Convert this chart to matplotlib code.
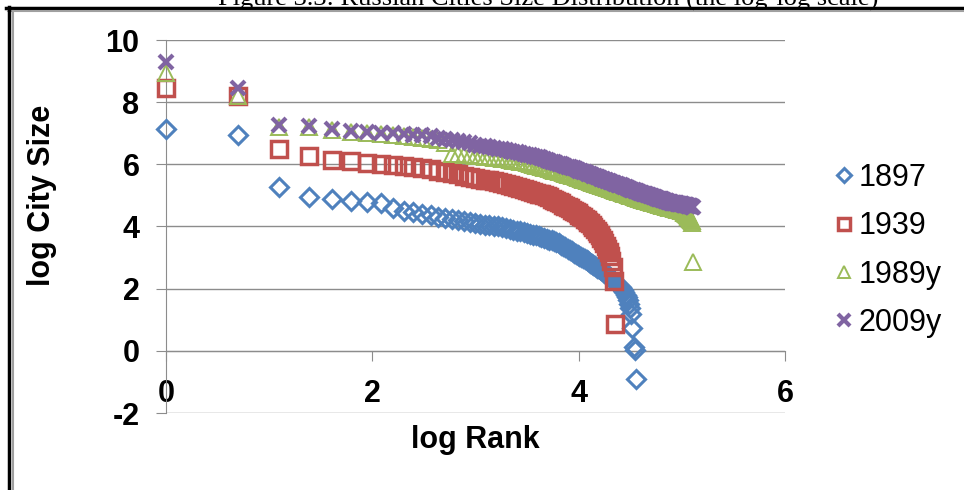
import numpy as np
import matplotlib
import matplotlib.pyplot as plt
from matplotlib.lines import Line2D

matplotlib.use('agg')

# log city size by rank (rank 1 = largest city)
size_1897 = [7.15, 6.95, 5.28, 4.95, 4.90, 4.83, 4.80, 4.75, 4.60, 4.50,
             4.46, 4.41, 4.36, 4.32, 4.28, 4.24, 4.21, 4.17, 4.13, 4.10,
             4.08, 4.06, 4.04, 4.02, 4.00, 3.97, 3.94, 3.91, 3.88, 3.86,
             3.84, 3.81, 3.79, 3.77, 3.74, 3.72, 3.70, 3.67, 3.64, 3.61,
             3.58, 3.55, 3.52, 3.49, 3.46, 3.42, 3.38, 3.34, 3.29, 3.24,
             3.20, 3.16, 3.12, 3.09, 3.06, 3.03, 3.00, 2.96, 2.92, 2.88,
             2.84, 2.80, 2.76, 2.72, 2.68, 2.66, 2.64, 2.60, 2.56, 2.52,
             2.48, 2.44, 2.40, 2.36, 2.32, 2.28, 2.24, 2.20, 2.16, 2.12,
             2.08, 2.04, 2.00, 1.95, 1.88, 1.80, 1.72, 1.62, 1.50, 1.38,
             1.18, 0.72, 0.12, 0.02, -0.90]

size_1939 = [8.45, 8.20, 6.50, 6.28, 6.13, 6.10, 6.05, 6.00, 5.98, 5.95,
             5.92, 5.88, 5.84, 5.80, 5.76, 5.72, 5.68, 5.64, 5.60, 5.57,
             5.54, 5.51, 5.48, 5.45, 5.42, 5.39, 5.36, 5.33, 5.30, 5.27,
             5.24, 5.21, 5.18, 5.15, 5.12, 5.09, 5.06, 5.03, 5.00, 4.97,
             4.94, 4.90, 4.86, 4.82, 4.78, 4.74, 4.70, 4.66, 4.62, 4.58,
             4.54, 4.50, 4.46, 4.42, 4.38, 4.34, 4.30, 4.25, 4.20, 4.15,
             4.10, 4.04, 3.98, 3.92, 3.86, 3.79, 3.72, 3.64, 3.56, 3.47,
             3.38, 3.28, 3.17, 3.05, 2.90, 2.70, 2.25, 0.85]

size_1989 = [8.95, 8.20, 7.20, 7.20, 7.12, 7.04, 7.00, 6.97, 6.95, 6.92,
             6.89, 6.86, 6.82, 6.78, 6.70, 6.34, 6.32, 6.30, 6.29, 6.28,
             6.26, 6.24, 6.22, 6.21, 6.19, 6.17, 6.16, 6.14, 6.12, 6.10,
             6.08, 6.06, 6.03, 6.01, 5.99, 5.96, 5.94, 5.92, 5.89, 5.87,
             5.85, 5.82, 5.80, 5.78, 5.76, 5.74, 5.72, 5.70, 5.67, 5.65,
             5.63, 5.61, 5.59, 5.57, 5.55, 5.53, 5.51, 5.49, 5.47, 5.45,
             5.43, 5.41, 5.40, 5.38, 5.36, 5.34, 5.32, 5.31, 5.29, 5.27,
             5.26, 5.24, 5.23, 5.21, 5.20, 5.18, 5.17, 5.15, 5.14, 5.12,
             5.11, 5.10, 5.08, 5.07, 5.06, 5.04, 5.03, 5.02, 5.00, 4.99,
             4.98, 4.97, 4.95, 4.94, 4.93, 4.92, 4.91, 4.90, 4.88, 4.87,
             4.86, 4.85, 4.84, 4.83, 4.82, 4.81, 4.81, 4.80, 4.79, 4.78,
             4.77, 4.76, 4.75, 4.74, 4.74, 4.73, 4.72, 4.71, 4.70, 4.69,
             4.69, 4.68, 4.67, 4.66, 4.66, 4.65, 4.64, 4.63, 4.63, 4.62,
             4.61, 4.61, 4.60, 4.59, 4.59, 4.58, 4.58, 4.57, 4.56, 4.56,
             4.55, 4.54, 4.54, 4.53, 4.53, 4.52, 4.51, 4.51, 4.50, 4.49,
             4.47, 4.45, 4.43, 4.41, 4.39, 4.37, 4.35, 4.32, 4.29, 4.27,
             4.24, 4.21, 4.17, 4.12, 2.85]

size_2009 = [9.30, 8.45, 7.25, 7.22, 7.15, 7.08, 7.05, 7.02, 7.00, 6.98,
             6.95, 6.93, 6.90, 6.86, 6.82, 6.79, 6.76, 6.72, 6.68, 6.63,
             6.60, 6.58, 6.55, 6.52, 6.50, 6.48, 6.45, 6.43, 6.41, 6.39,
             6.37, 6.34, 6.31, 6.29, 6.27, 6.24, 6.22, 6.19, 6.17, 6.14,
             6.12, 6.09, 6.07, 6.05, 6.02, 6.00, 5.98, 5.96, 5.93, 5.91,
             5.89, 5.87, 5.85, 5.82, 5.80, 5.78, 5.76, 5.74, 5.72, 5.70,
             5.68, 5.66, 5.64, 5.62, 5.60, 5.58, 5.56, 5.54, 5.53, 5.51,
             5.49, 5.47, 5.46, 5.44, 5.42, 5.41, 5.39, 5.38, 5.36, 5.35,
             5.33, 5.32, 5.30, 5.29, 5.27, 5.26, 5.24, 5.23, 5.22, 5.20,
             5.19, 5.18, 5.16, 5.15, 5.14, 5.13, 5.12, 5.11, 5.09, 5.08,
             5.07, 5.06, 5.05, 5.04, 5.03, 5.02, 5.01, 5.00, 4.99, 4.98,
             4.97, 4.96, 4.95, 4.94, 4.93, 4.92, 4.91, 4.90, 4.89, 4.88,
             4.88, 4.87, 4.86, 4.85, 4.84, 4.83, 4.83, 4.82, 4.81, 4.80,
             4.79, 4.79, 4.78, 4.77, 4.76, 4.76, 4.75, 4.75, 4.75, 4.74,
             4.74, 4.73, 4.73, 4.73, 4.72, 4.72, 4.71, 4.71, 4.71, 4.70,
             4.70, 4.69, 4.69, 4.69, 4.68, 4.68, 4.67, 4.67, 4.66, 4.66,
             4.65, 4.65, 4.64, 4.63, 4.62]

years = ['1897', '1939', '1989y', '2009y']
x_ticks = [0, 2, 4, 6]
y_ticks = [-2, 0, 2, 4, 6, 8, 10]
title = 'Figure 3.3: Russian Cities Size Distribution (the log-log scale)'

W, H = 964, 490
plt.rcParams['font.family'] = ['Liberation Sans', 'DejaVu Sans']
plt.rcParams['axes.unicode_minus'] = False

fig = plt.figure(figsize=(W / 100, H / 100), dpi=100)
ax = fig.add_axes([166 / W, 1 - 413 / H, (785 - 166) / W, (413 - 40) / H])

styles = [
    dict(marker='D', ms=9, mfc='none', mec='#4F81BD', mew=2.2),
    dict(marker='s', ms=11, mfc='none', mec='#C0504D', mew=2.5),
    dict(marker='^', ms=11, mfc='none', mec='#9BBB59', mew=1.4),
    dict(marker='x', ms=10, mec='#8064A2', mew=3),
]
series = [size_1897, size_1939, size_1989, size_2009]

for values, st in zip(series, styles):
    rank = np.arange(1, len(values) + 1)
    ax.plot(np.log(rank), values, linestyle='none', clip_on=False, zorder=3, **st)

ax.set_xlim(0, 6)
ax.set_ylim(-2, 10)
ax.set_xticks(x_ticks)
ax.set_yticks(y_ticks)

grid_c = '#8c8c8c'
ax.yaxis.grid(True, color=grid_c, linewidth=1)
ax.set_axisbelow(True)
for s in ['top', 'right']:
    ax.spines[s].set_visible(False)
ax.spines['bottom'].set_position(('data', 0))
ax.spines['bottom'].set_color(grid_c)
ax.spines['left'].set_color(grid_c)

ax.tick_params(axis='x', direction='out', length=7, color=grid_c, pad=13,
               labelsize=22)
ax.tick_params(axis='y', direction='out', length=7, color=grid_c, pad=12,
               labelsize=22)
for lab in ax.get_xticklabels() + ax.get_yticklabels():
    lab.set_fontweight('bold')

fig.text(475 / W, 1 - 440 / H, 'log Rank', ha='center', va='center',
         fontsize=22, fontweight='bold')
fig.text(42 / W, 1 - 195 / H, 'log City Size', ha='center', va='center',
         rotation=90, fontsize=22, fontweight='bold')

handles = []
for st, lab in zip(styles, years):
    h = dict(st)
    h['ms'] = h['ms'] * 0.8
    handles.append(Line2D([], [], linestyle='none', label=lab, **h))
fig.legend(handles=handles, loc='upper left',
           bbox_to_anchor=(833 / W, 1 - 163 / H), frameon=False,
           fontsize=22, handlelength=0.7, handletextpad=0.15,
           labelspacing=0.6, borderpad=0, borderaxespad=0)

# partly cut off caption and the document frame
fig.text(548 / W, 1 - 6 / H, title, ha='center', va='baseline',
         fontsize=19, family='Liberation Serif')
fig.add_artist(Line2D([6 / W, 1], [1 - 8 / H, 1 - 8 / H], color='black', lw=2.5))
fig.add_artist(Line2D([8 / W, 1], [1 - 11 / H, 1 - 11 / H], color='#a0a0a0', lw=1.5))
fig.add_artist(Line2D([9 / W, 9 / W], [0, 1 - 7 / H], color='black', lw=2.5))
fig.add_artist(Line2D([13 / W, 13 / W], [0, 1 - 11 / H], color='#a0a0a0', lw=1.5))

fig.savefig('out.png', dpi=100)
